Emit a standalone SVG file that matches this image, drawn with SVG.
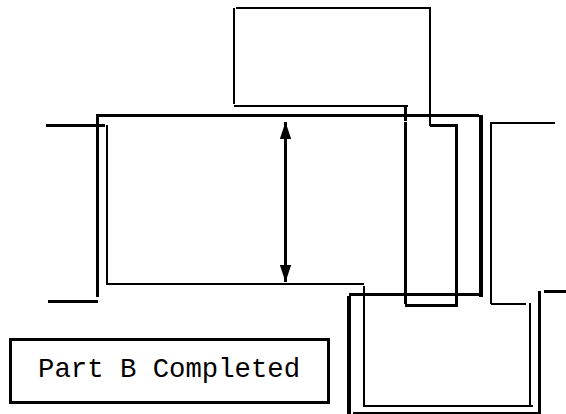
<svg xmlns="http://www.w3.org/2000/svg" width="566" height="414" viewBox="0 0 566 414">
<style>
.a{fill:none;stroke:#000;stroke-width:2;shape-rendering:crispEdges}
.b{fill:none;stroke:#000;stroke-width:3;shape-rendering:crispEdges}
.c{fill:none;stroke:#000;stroke-width:4;shape-rendering:crispEdges}
.t{font-family:"Liberation Mono",monospace;font-size:27.3px;fill:#000}
</style>
<defs>
<marker id="h" markerUnits="userSpaceOnUse" markerWidth="17" markerHeight="12" refX="17" refY="6" viewBox="0 0 17 12" orient="auto-start-reverse"><path d="M0 0.3L17 6L0 11.7Z" fill="#000"/></marker>
</defs>
<rect width="566" height="414" fill="#fff"/>
<g id="connectors">
<path class="a" d="M234 8V104M236 8H431M430 8V126M234 106H408"/>
<path class="b" d="M405.5 106V120.5M405.5 122V304M430 125.5H458M456.5 125V307M405 305.5H458"/>
<path class="b" d="M97.5 297V115.5H479M46 125.5H105M48 301.5H98"/>
<path class="c" d="M481 115V297M349 296V414"/>
<path class="b" d="M349 294.5H481M539.5 291V414M544 291.5H566"/>
<path class="a" d="M353 413H541M107 125V284M106 284H364M364 286V406M363 406H533M530 303V406M491 304H526M491 304V123H555"/>
<path class="b" d="M285.5 122V282" marker-start="url(#h)" marker-end="url(#h)"/>
</g>
<g id="part-b">
<rect class="b" x="10.5" y="339.5" width="318" height="63"/>
<text class="t" x="38" y="376.7">Part B Completed</text>
</g>
</svg>
